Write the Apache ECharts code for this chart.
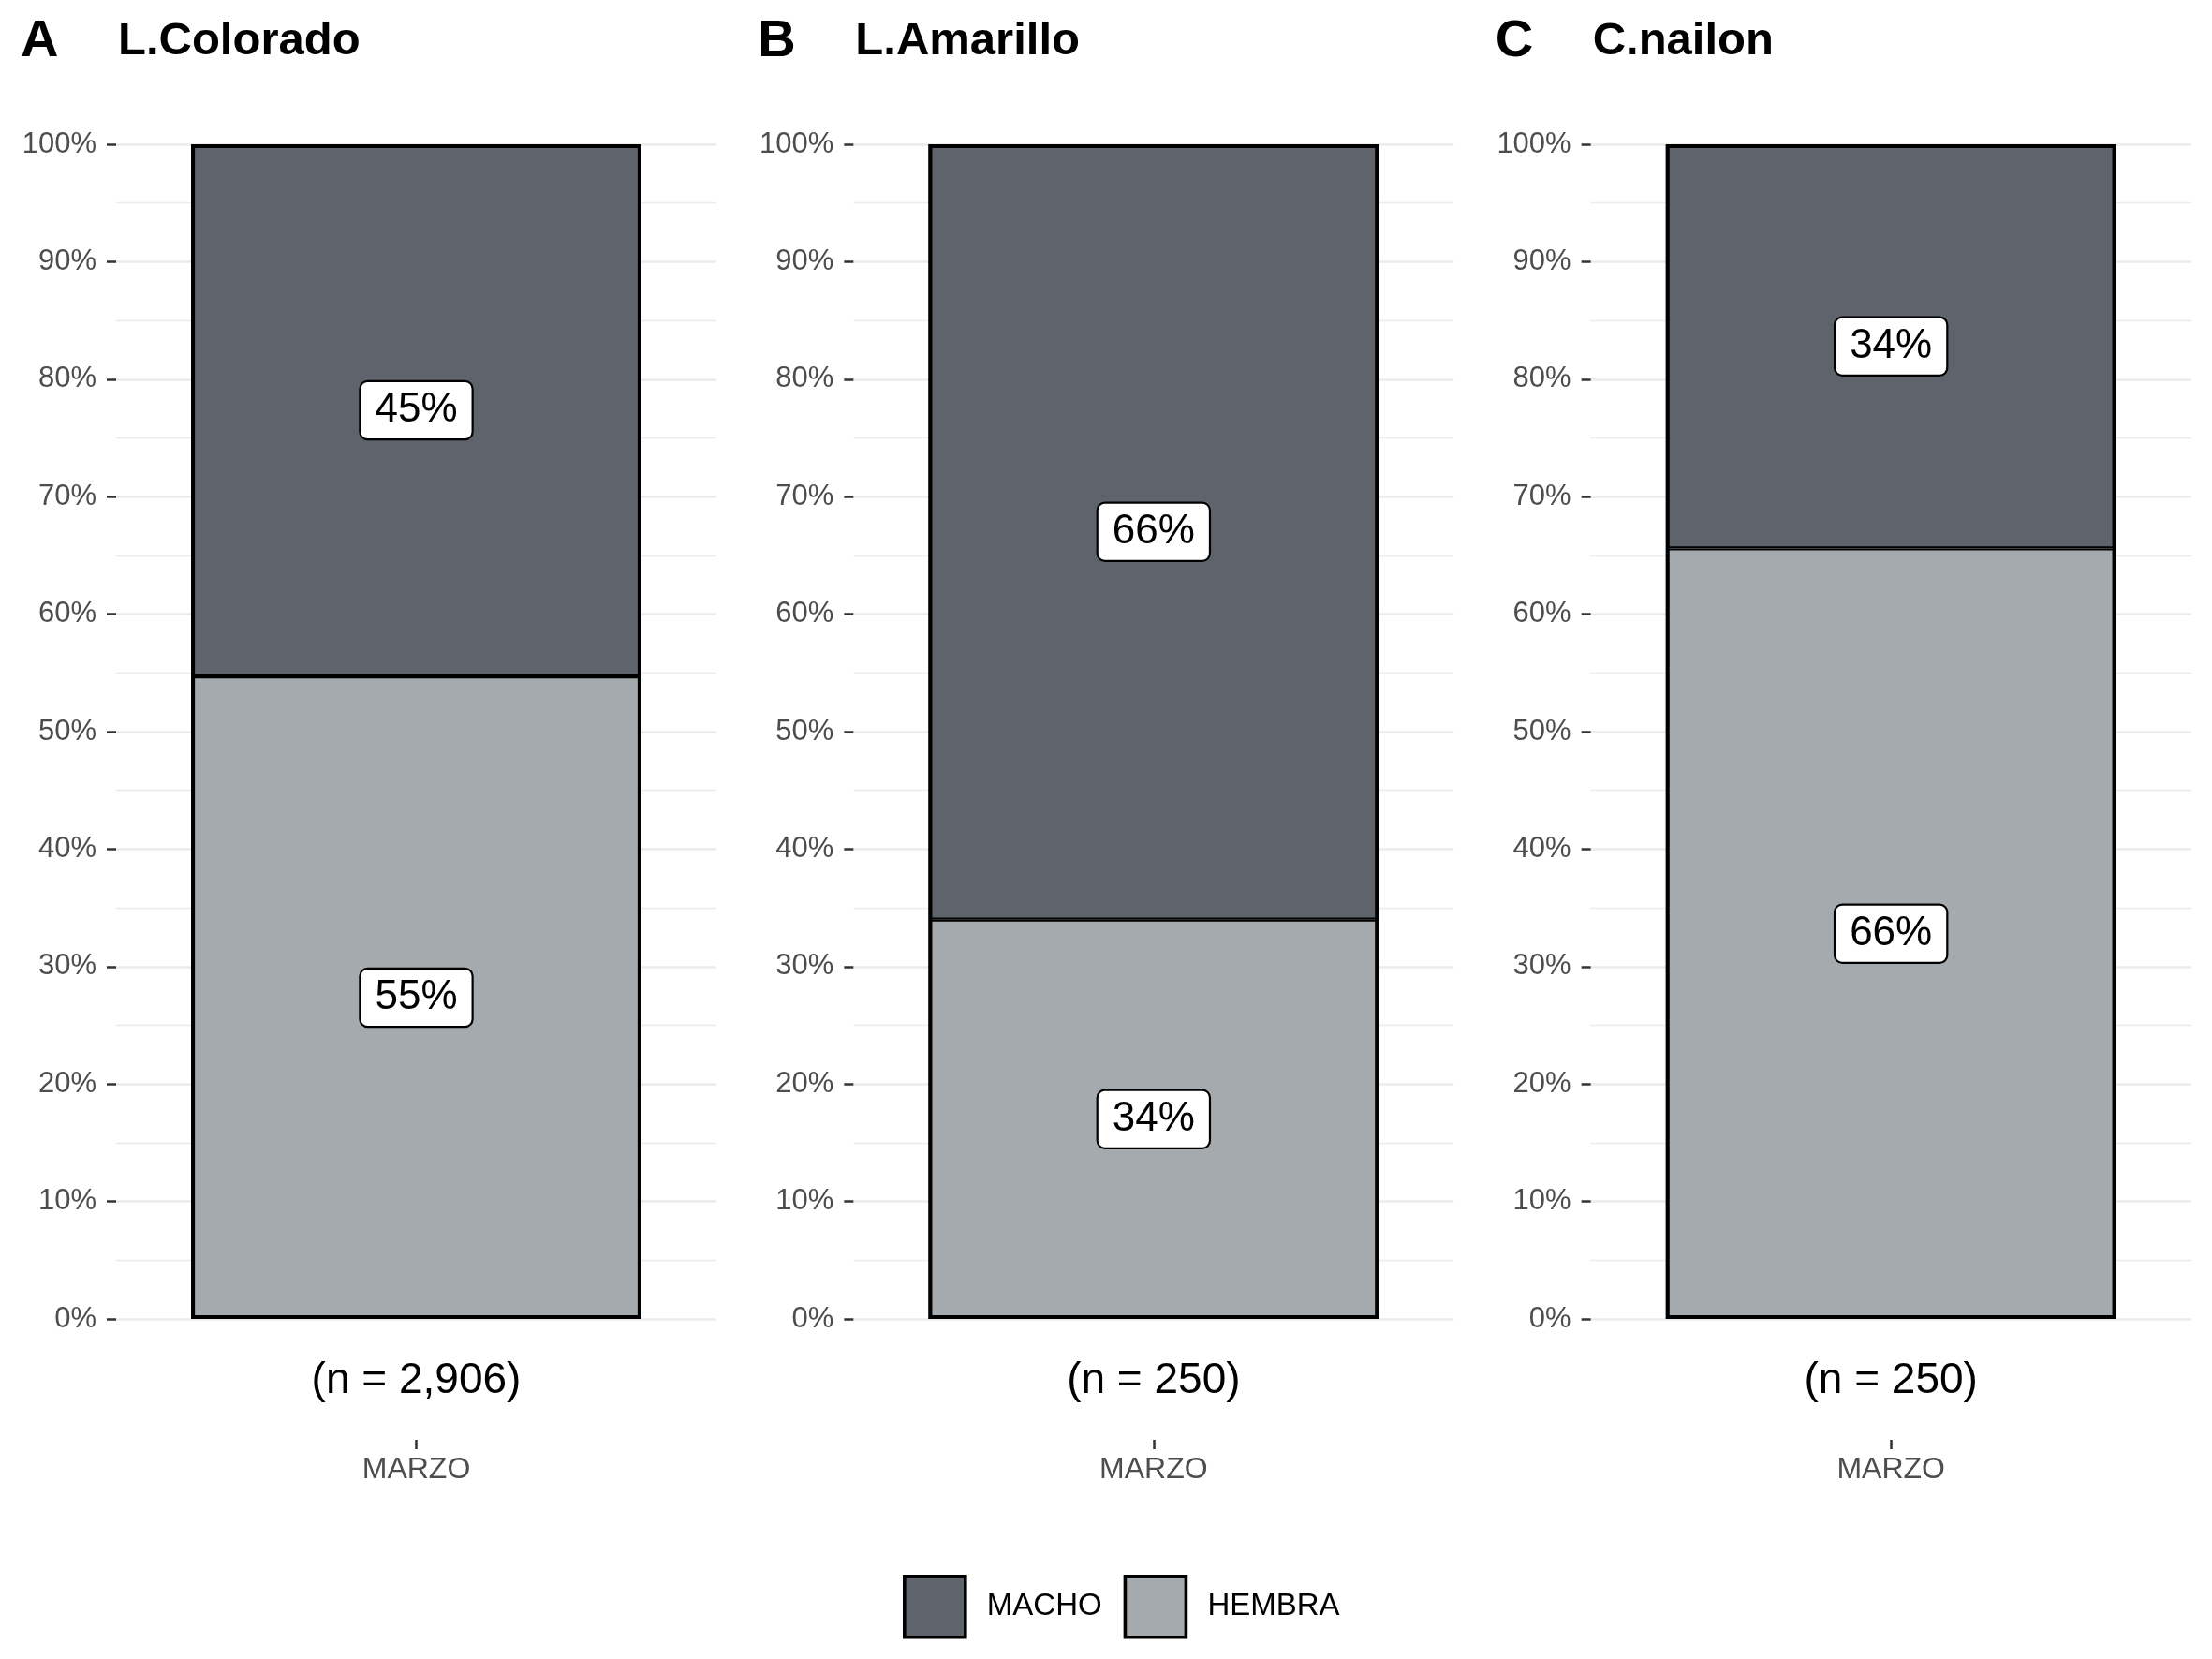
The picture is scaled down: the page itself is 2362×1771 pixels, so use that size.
<!DOCTYPE html>
<html>
<head>
<meta charset="utf-8">
<script src="https://cdn.jsdelivr.net/npm/echarts@6/dist/echarts.min.js"></script>
<style>
html,body{margin:0;padding:0;background:#fff;}
#chart{width:2362px;height:1771px;}
</style>
</head>
<body>
<div id="chart"></div>
<script>
// ---- data ----
const tags = ['A', 'B', 'C'];
const panelTitles = ['L.Colorado', 'L.Amarillo', 'C.nailon'];
const nLabels = ['(n = 2,906)', '(n = 250)', '(n = 250)'];
const categories = ['MARZO'];
const seriesNames = ['MACHO', 'HEMBRA'];
const hembraPct = [54.7, 34.0, 65.6];
const machoPct = [45.3, 66.0, 34.4];
const colors = { MACHO: '#5f636b', HEMBRA: '#a4aaad' };

// ---- layout ----
const W = 2362;
const panelW = W / 3;
const plotLeft = 124, plotW = 641, plotTop = 154, plotH = 1254;
const FONT = '"Liberation Sans", Arial, Helvetica, sans-serif';

const grids = [], xAxes = [], yAxes = [], series = [], graphics = [];

tags.forEach((tag, i) => {
  const off = i * panelW;
  grids.push({ left: off + plotLeft, top: plotTop, width: plotW, height: plotH, containLabel: false });
  xAxes.push({
    type: 'category', gridIndex: i, data: categories,
    offset: 129,
    axisLine: { show: true, onZero: false, lineStyle: { color: 'rgba(0,0,0,0)', width: 0 } },
    axisTick: { show: true, alignWithLabel: true, length: 10, lineStyle: { color: '#333', width: 2.5 } },
    axisLabel: { fontSize: 32, color: '#4d4d4d', margin: 16, fontFamily: FONT },
    splitLine: { show: false }
  });
  yAxes.push({
    type: 'value', gridIndex: i, min: 0, max: 100, interval: 10,
    axisLine: { show: false },
    axisTick: { show: true, length: 10, lineStyle: { color: '#333', width: 2.5 } },
    axisLabel: { formatter: '{value}%', fontSize: 31, color: '#4d4d4d', margin: 21, fontFamily: FONT },
    splitLine: { show: true, lineStyle: { color: '#ebebeb', width: 2.5 } },
    minorTick: { show: false, splitNumber: 2 },
    minorSplitLine: { show: true, lineStyle: { color: '#ebebeb', width: 1.3 } }
  });
  const labelCfg = {
    show: true, position: 'inside',
    formatter: p => Math.round(p.value) + '%',
    fontSize: 44, color: '#000', fontFamily: FONT,
    backgroundColor: '#fff', borderColor: '#000', borderWidth: 2.2, borderRadius: 7,
    padding: [8, 15, 8, 15]
  };
  series.push({
    name: 'HEMBRA', type: 'bar', stack: 's' + i, xAxisIndex: i, yAxisIndex: i,
    data: [hembraPct[i]], barWidth: '75%', barGap: '-100%',
    itemStyle: { color: colors.HEMBRA, borderColor: '#000', borderWidth: 2.2 },
    label: labelCfg, z: 2
  });
  series.push({
    name: 'MACHO', type: 'bar', stack: 's' + i, xAxisIndex: i, yAxisIndex: i,
    data: [machoPct[i]], barWidth: '75%', barGap: '-100%',
    itemStyle: { color: colors.MACHO, borderColor: '#000', borderWidth: 2.2 },
    label: labelCfg, z: 2
  });
  // outline of the full stacked bar
  series.push({
    name: 'outline', type: 'bar', xAxisIndex: i, yAxisIndex: i,
    data: [hembraPct[i] + machoPct[i]], barWidth: '75%', barGap: '-100%',
    itemStyle: { color: 'rgba(0,0,0,0)', borderColor: '#000', borderWidth: 4 },
    label: { show: false }, silent: true, z: 3
  });
  graphics.push({
    type: 'text', x: off + 22, y: 45,
    style: { text: tag, font: 'bold 56px ' + FONT, fill: '#000', textAlign: 'left', textVerticalAlign: 'middle', align: 'left', verticalAlign: 'middle' }
  });
  graphics.push({
    type: 'text', x: off + 126, y: 44,
    style: { text: panelTitles[i], font: 'bold 49px ' + FONT, fill: '#000', textAlign: 'left', textVerticalAlign: 'middle', align: 'left', verticalAlign: 'middle' }
  });
  graphics.push({
    type: 'text', x: off + plotLeft + plotW / 2, y: 1474,
    style: { text: nLabels[i], font: '46px ' + FONT, fill: '#000', textAlign: 'center', textVerticalAlign: 'middle', align: 'center', verticalAlign: 'middle' }
  });
});

const chart = echarts.init(document.getElementById('chart'), null, { renderer: 'canvas' });
chart.setOption({
  backgroundColor: '#fff',
  animation: false,
  grid: grids,
  xAxis: xAxes,
  yAxis: yAxes,
  series: series,
  graphic: graphics,
  legend: {
    data: seriesNames,
    left: 959, top: 1676,
    orient: 'horizontal',
    icon: 'rect',
    itemWidth: 65, itemHeight: 65,
    itemGap: 23,
    itemStyle: { borderColor: '#000', borderWidth: 3.6 },
    textStyle: { fontSize: 33, color: '#000', fontFamily: FONT, padding: [0, 0, 0, 18] },
    selectedMode: false
  }
});
</script>
</body>
</html>
